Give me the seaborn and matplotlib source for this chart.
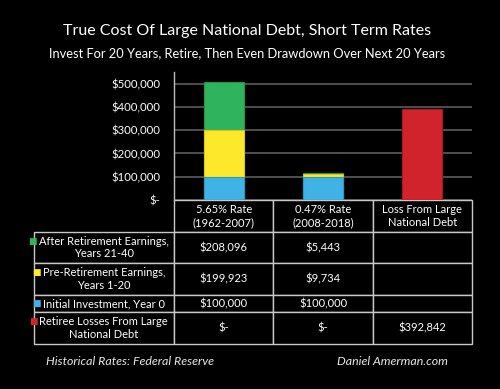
import numpy as np
import pandas as pd
import matplotlib
matplotlib.use("Agg")
import matplotlib.pyplot as plt
import matplotlib.ticker as mticker
from matplotlib.table import Table
import seaborn as sns

# chart data
categories = ["5.65% Rate\n(1962-2007)", "0.47% Rate\n(2008-2018)", "Loss From Large\nNational Debt"]
initial_investment = [100000, 100000, 0]
pre_retirement = [199923, 9734, 0]
after_retirement = [208096, 5443, 0]
retiree_losses = [0, 0, 392842]

row_labels = [
    "After Retirement Earnings,\nYears 21-40",
    "Pre-Retirement Earnings,\nYears 1-20",
    "Initial Investment, Year 0",
    "Retiree Losses From Large\nNational Debt",
]
table_text = [
    ["$208,096", "$5,443", ""],
    ["$199,923", "$9,734", ""],
    ["$100,000", "$100,000", ""],
    ["$-", "$-", "$392,842"],
]
y_ticks = [0, 100000, 200000, 300000, 400000, 500000]

GREEN = "#2fb35c"
YELLOW = "#fde82c"
BLUE = "#3fb3e6"
RED = "#d0232b"
row_colors = [GREEN, YELLOW, BLUE, RED]
edge_colors = {"lvl3": "#23934a", "lvl2": "#d9c41c", "lvl1": "#2e97c8", "loss": "#a8181f"}

sns.set_style("dark")
plt.rcParams["font.family"] = ["Lato", "DejaVu Sans"]

fig = plt.figure(figsize=(5, 3.89), dpi=100, facecolor="black")
ax = fig.add_axes([0.348, 0.486, 0.596, 0.329])
ax.set_facecolor("black")

df = pd.DataFrame({
    "category": categories,
    "initial": initial_investment,
    "pre": pre_retirement,
    "after": after_retirement,
    "loss": retiree_losses,
})
df["lvl1"] = df["initial"]
df["lvl2"] = df["lvl1"] + df["pre"]
df["lvl3"] = df["lvl2"] + df["after"]

# stacked by overlaying cumulative totals
for col, colr in [("lvl3", GREEN), ("lvl2", YELLOW), ("lvl1", BLUE), ("loss", RED)]:
    sns.barplot(data=df, x="category", y=col, color=colr, width=0.4,
                errorbar=None, ax=ax, saturation=1,
                edgecolor=edge_colors[col], linewidth=0.8)

ax.set_ylim(0, 550000)
ax.set_xlim(-0.5, 2.5)
ax.set_yticks(y_ticks)
ax.yaxis.set_major_formatter(mticker.FuncFormatter(lambda v, p: "$-" if v == 0 else f"${v:,.0f}"))
ax.grid(False)
for t in y_ticks:
    ax.axhline(t, color="#555555", lw=1.3, zorder=0)
ax.set_axisbelow(True)
ax.set_xlabel("")
ax.set_ylabel("")
ax.set_xticks([])
ax.tick_params(axis="y", colors="white", labelsize=8.2, length=0, pad=10)
for s in ["top", "right", "bottom"]:
    ax.spines[s].set_visible(False)
ax.spines["left"].set_color("#bfbfbf")
ax.spines["left"].set_linewidth(1)

# data table under the bars (bbox covers the data cells, row labels sit to the left)
tbl = Table(ax, bbox=[0, -1.125, 1, 1.125])
row_h = [32, 31, 32, 17, 32]
col_w = 99
lab_w = 140
for j, name in enumerate(categories):
    tbl.add_cell(0, j, width=col_w, height=row_h[0], text=name, loc="center")
for i, lab in enumerate(row_labels):
    tbl.add_cell(i + 1, -1, width=lab_w, height=row_h[i + 1], text=lab, loc="center")
    for j, val in enumerate(table_text[i]):
        tbl.add_cell(i + 1, j, width=col_w, height=row_h[i + 1], text=val, loc="center")
tbl.auto_set_font_size(False)
for (r, c), cell in tbl.get_celld().items():
    cell.set_facecolor("black")
    cell.set_edgecolor("#c8c8c8")
    cell.set_linewidth(1)
    cell.get_text().set_color("white")
    cell.get_text().set_fontsize(8)
ax.add_table(tbl)

fig.canvas.draw()
fig.canvas.draw()
renderer = fig.canvas.get_renderer()

# coloured legend keys in front of the row labels
inv = fig.transFigure.inverted()
for i, colr in enumerate(row_colors):
    txt = tbl[(i + 1, -1)].get_text()
    bb = txt.get_window_extent(renderer)
    n_lines = row_labels[i].count("\n") + 1
    line_h = bb.height / n_lines
    x, y = inv.transform((bb.x0 - 2, bb.y1 - line_h / 2))
    fig.text(x, y, "■", color=colr, fontsize=6.5, ha="right", va="center",
             family=["DejaVu Sans"])

fig.text(0.494, 0.910, "True Cost Of Large National Debt, Short Term Rates",
         color="white", fontsize=11.5, ha="center", va="baseline")
fig.text(0.494, 0.853, "Invest For 20 Years, Retire, Then Even Drawdown Over Next 20 Years",
         color="white", fontsize=9.3, ha="center", va="baseline")
fig.text(0.26, 0.062, "Historical Rates: Federal Reserve", color="#e8e8e8",
         fontsize=8.9, style="italic", ha="center", va="baseline")
fig.text(0.785, 0.062, "Daniel Amerman.com", color="#e8e8e8",
         fontsize=8.9, style="italic", ha="center", va="baseline")

fig.savefig("out.png", dpi=100, facecolor="black")
